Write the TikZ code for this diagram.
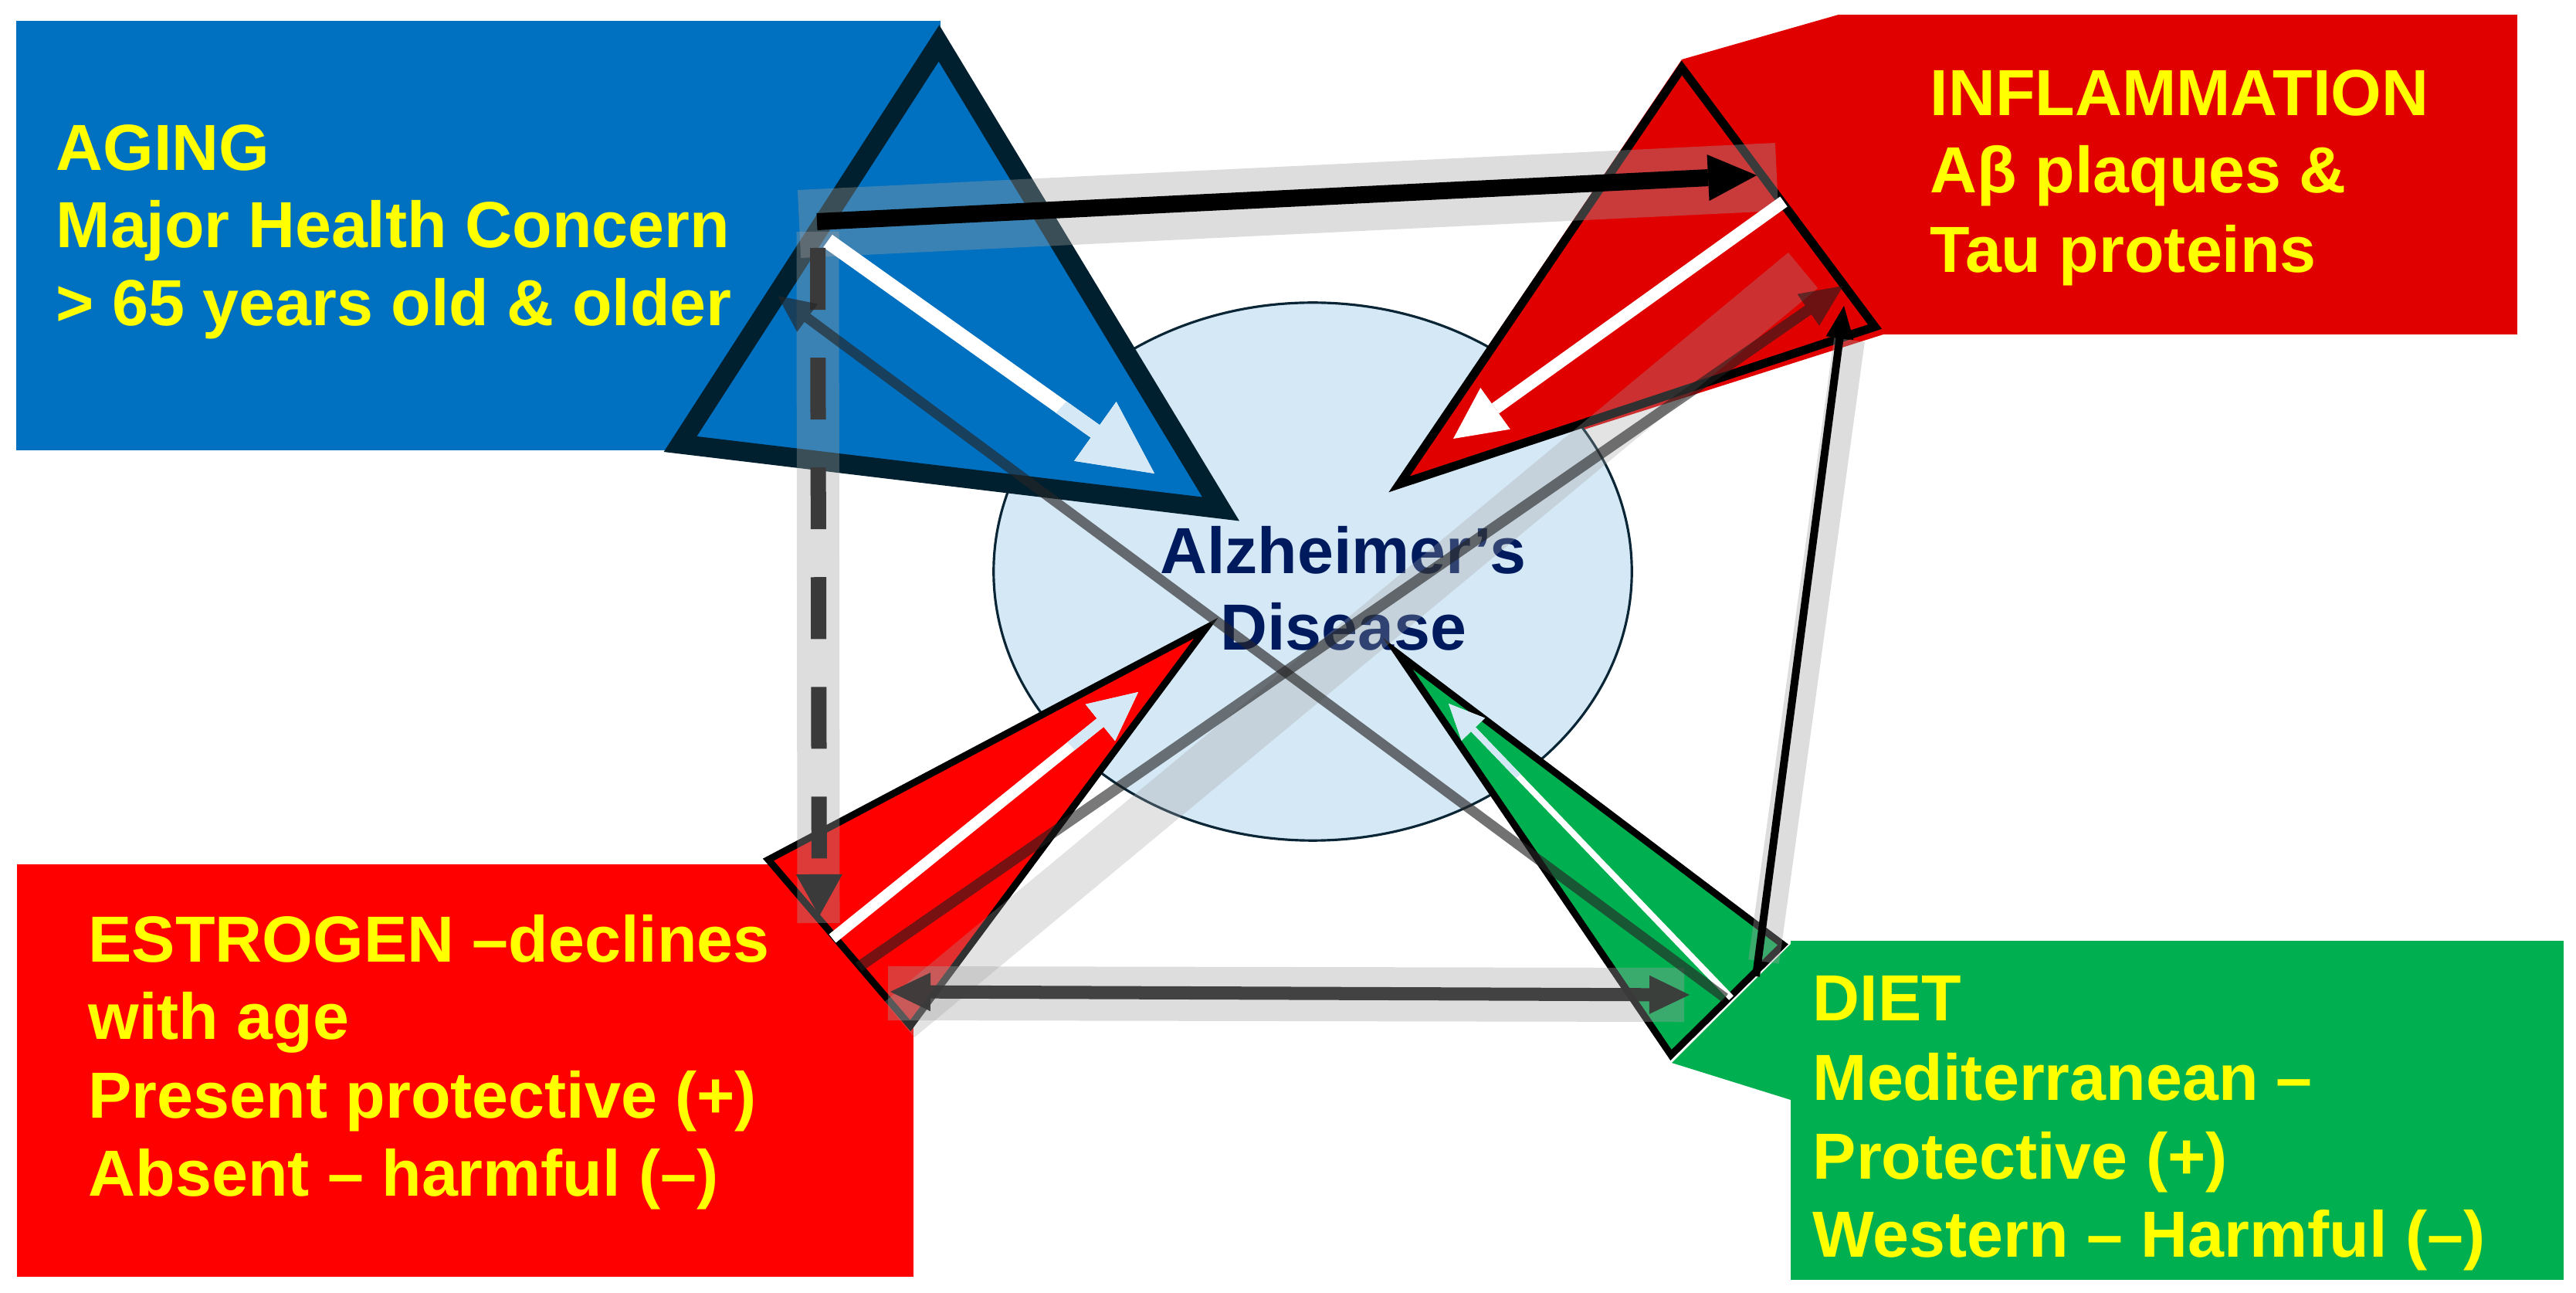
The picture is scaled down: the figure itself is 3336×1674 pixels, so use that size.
\documentclass[tikz,border=0pt]{standalone}
\usepackage{fontspec}
\setmainfont{Liberation Sans}
\usetikzlibrary{arrows.meta,shapes.geometric}
\definecolor{agingblue}{HTML}{0070C0}
\definecolor{triborder}{HTML}{00202F}
\definecolor{inflred}{HTML}{E00000}
\definecolor{estred}{HTML}{FF0000}
\definecolor{dietgreen}{HTML}{00B050}
\definecolor{adfill}{HTML}{D5E8F5}
\definecolor{adborder}{HTML}{0A2535}
\definecolor{adtext}{HTML}{001A5E}
\definecolor{bandgray}{HTML}{A1A1A1}
\definecolor{connector}{HTML}{3A3A3A}
\definecolor{txtyellow}{HTML}{FFFF00}
\begin{document}
\begin{tikzpicture}[x=0.01cm,y=-0.01cm,
  boxtext/.style={font=\bfseries\fontsize{24}{28}\selectfont, text=txtyellow, anchor=base west, inner sep=0pt},
  adlabel/.style={font=\bfseries\fontsize{24}{28}\selectfont, text=adtext, anchor=base, inner sep=0pt},
  boxrect/.style={anchor=north west, inner sep=0pt, outer sep=0pt, draw=none},
  band/.style={draw=bandgray, draw opacity=0.36, line cap=butt},
  tri/.style={line join=miter, draw=black},
  whitearrow/.style={line cap=butt},
  conn/.style={line cap=butt}
]
\useasboundingbox (0,0) rectangle (3336,1674);

% ---------- boxes (callouts) ----------
\node[boxrect, fill=agingblue, minimum width=11.96cm, minimum height=5.56cm] (agingbox) at (21,27) {};
\node[boxrect, fill=inflred, minimum width=8.78cm, minimum height=4.14cm] (inflbox) at (2381,19) {};
\fill[inflred] (inflbox.north west) -- (2439,433) -- (1800,636) -- (2178,77) -- cycle;
\node[boxrect, fill=estred, minimum width=11.60cm, minimum height=5.34cm] (estbox) at (22,1119) {};
\node[boxrect, fill=dietgreen, minimum width=10.00cm, minimum height=4.39cm] (dietbox) at (2319,1218) {};
\fill[dietgreen] (2165,1376) -- (2319,1222) -- (2319,1424) -- cycle;

% ---------- central ellipse ----------
\node[ellipse, draw=adborder, line width=0.9pt, fill=adfill, minimum width=8.26cm, minimum height=6.96cm, inner sep=0pt] (ad) at (1700,740) {};
\node[adlabel] (ad1) at (1739,743) {Alzheimer’s};
\node[adlabel] (ad2) at (1740,842) {Disease};

% ---------- pointer triangles ----------
\coordinate (ba) at (1216,56);  \coordinate (bb) at (881,575);  \coordinate (bc) at (1581,659);
\coordinate (ia) at (2178,88);  \coordinate (ib) at (1812,627); \coordinate (ic) at (2428,423);
\coordinate (ea) at (1562,813); \coordinate (eb) at (995,1113); \coordinate (ec) at (1179,1328);
\coordinate (ga) at (1810,846); \coordinate (gb) at (2164,1366); \coordinate (gc) at (2309,1223);

\draw[tri, draw=triborder, fill=agingblue, line width=0.25cm] (ba) -- (bb) -- (bc) -- cycle;
\draw[tri, fill=inflred, line width=0.11cm] (ia) -- (ib) -- (ic) -- cycle;
\draw[tri, fill=estred, line width=0.09cm] (ea) -- (eb) -- (ec) -- cycle;
\draw[tri, fill=dietgreen, line width=0.09cm] (ga) -- (gb) -- (gc) -- cycle;

% ---------- light bands behind connectors ----------
\coordinate (b1s) at (1035,290);  \coordinate (b1e) at (2301,229);
\coordinate (b2s) at (1059,300);  \coordinate (b2e) at (1060,1195);
\coordinate (b4s) at (1150,1286); \coordinate (b4e) at (2181,1288);
\coordinate (b5s) at (2284,1245); \coordinate (b5e) at (2395,440);
\coordinate (b6s) at (1165,1320); \coordinate (b6e) at (2335,350);
\draw[band, line width=0.88cm] (b1s) -- (b1e);
\draw[band, line width=0.55cm] (b2s) -- (b2e);
\draw[band, line width=0.70cm] (b4s) -- (b4e);
\draw[band, line width=0.40cm] (b5s) -- (b5e);
\draw[band, draw opacity=0.3, line width=0.60cm] (b6s) -- (b6e);

% ---------- white arrows inside the pointers ----------
\coordinate (wb1) at (1072,312);  \coordinate (wb2) at (1495,613);
\coordinate (wi1) at (2310,261);  \coordinate (wi2) at (1882,568);
\coordinate (we1) at (1078,1215); \coordinate (we2) at (1474,896);
\coordinate (wg1) at (2242,1292); \coordinate (wg2) at (1876,911);
\draw[whitearrow, draw=white, line width=0.20cm, -{Triangle[length=0.94cm,width=0.94cm,line width=0pt]}] (wb1) -- (wb2);
\draw[whitearrow, draw=white, line width=0.16cm, -{Triangle[length=0.67cm,width=0.66cm,line width=0pt]}] (wi1) -- (wi2);
\draw[whitearrow, draw=white, line width=0.14cm, -{Triangle[length=0.63cm,width=0.61cm,line width=0pt]}] (we1) -- (we2);
\draw[whitearrow, draw=white, line width=0.08cm, -{Triangle[length=0.46cm,width=0.42cm,line width=0pt]}] (wg1) -- (wg2);
\begin{scope}
  \clip (1700,740) ellipse [x radius=4.12cm, y radius=3.47cm];
  \draw[whitearrow, draw=adfill, line width=0.20cm, -{Triangle[length=0.94cm,width=0.94cm,line width=0pt]}] (wb1) -- (wb2);
  \draw[whitearrow, draw=adfill, line width=0.14cm, -{Triangle[length=0.63cm,width=0.61cm,line width=0pt]}] (we1) -- (we2);
  \draw[whitearrow, draw=adfill, line width=0.08cm, -{Triangle[length=0.46cm,width=0.42cm,line width=0pt]}] (wg1) -- (wg2);
\end{scope}

% ---------- connectors ----------
\coordinate (c1s) at (1058,287);  \coordinate (c1e) at (2275,227);
\coordinate (c2s) at (1059,321);  \coordinate (c2e) at (1061,1186);
\coordinate (c3s) at (2234,1292); \coordinate (c3e) at (1007,383);
\coordinate (c4s) at (1153,1284); \coordinate (c4e) at (2188,1288);
\coordinate (c5s) at (2274,1264); \coordinate (c5e) at (2388,396);
\coordinate (c6s) at (1112,1252); \coordinate (c6e) at (2387,370);

\draw[conn, black, line width=0.22cm, -{Triangle[length=0.63cm,width=0.60cm,line width=0pt]}] (c1s) -- (c1e);
\draw[conn, connector, line width=0.20cm, dash pattern=on 0.8cm off 0.62cm, -{Triangle[length=0.54cm,width=0.60cm,line width=0pt]}] (c2s) -- (c2e);
\draw[conn, black!85, opacity=0.65, line width=0.13cm, -{Triangle[length=0.48cm,width=0.45cm,line width=0pt]}] (c3s) -- (c3e);
\draw[conn, connector, opacity=0.95, line width=0.17cm, {Triangle[length=0.52cm,width=0.50cm,line width=0pt]}-{Triangle[length=0.52cm,width=0.50cm,line width=0pt]}] (c4s) -- (c4e);
\draw[conn, black, line width=0.10cm, -{Triangle[length=0.42cm,width=0.36cm,line width=0pt]}] (c5s) -- (c5e);
\draw[conn, black!88, opacity=0.6, line width=0.14cm, -{Triangle[length=0.55cm,width=0.50cm,line width=0pt]}] (c6s) -- (c6e);

% ---------- box texts ----------
\node[boxtext] (ag1) at (72,221) {AGING};
\node[boxtext] (ag2) at (72,321) {Major Health Concern};
\node[boxtext] (ag3) at (72,422) {> 65 years old \& older};

\node[boxtext] (in1) at (2499,150) {INFLAMMATION};
\node[boxtext] (in2) at (2499,250) {Aβ plaques \&};
\node[boxtext] (in3) at (2499,353) {Tau proteins};

\node[boxtext] (es1) at (114,1245) {ESTROGEN –declines};
\node[boxtext] (es2) at (114,1346) {with age};
\node[boxtext] (es3) at (114,1447) {Present protective (+)};
\node[boxtext] (es4) at (114,1548) {Absent – harmful (–)};

\node[boxtext] (di1) at (2347,1321) {DIET};
\node[boxtext] (di2) at (2347,1424) {Mediterranean –};
\node[boxtext] (di3) at (2347,1526) {Protective (+)};
\node[boxtext] (di4) at (2347,1627) {Western – Harmful (–)};
\end{tikzpicture}
\end{document}
